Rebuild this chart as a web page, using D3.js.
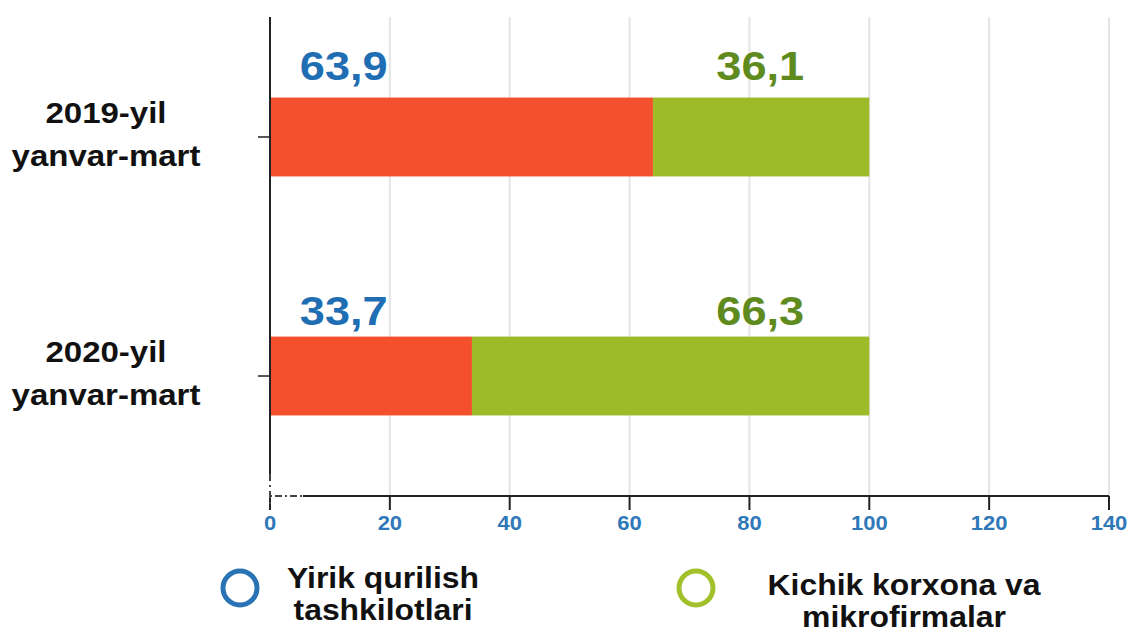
<!DOCTYPE html>
<html>
<head>
<meta charset="utf-8">
<script src="https://cdn.jsdelivr.net/npm/d3@7"></script>
<style>
  body { margin: 0; background: #fff; }
  text { font-family: "Liberation Sans", Arial, sans-serif; font-weight: bold; }
</style>
</head>
<body>
<svg width="1130" height="633"></svg>
<script>
// data
categories = [["2019-yil", "yanvar-mart"], ["2020-yil", "yanvar-mart"]];
catKeys = ["2019", "2020"];
yirik = [63.9, 33.7];
kichik = [36.1, 66.3];
seriesNames = [["Yirik qurilish", "tashkilotlari"], ["Kichik korxona va", "mikrofirmalar"]];
xTicks = [0, 20, 40, 60, 80, 100, 120, 140];

// layout
barColors = ["#f5502d", "#9dba29"];
labelColors = ["#1f6eb3", "#5e8a1e"];
legendColors = ["#2a73b4", "#a1c02b"];
labelAt = [12.3, 81.8];   // where value labels sit, in axis units
labelGap = [18, 12];
stretch = 1.1;            // text in the original is a bit wide

svg = d3.select("svg");

x = d3.scaleLinear().domain([0, 140]).range([270, 1109]);
y = d3.scaleBand().domain(catKeys).range([17, 496])
  .paddingInner(0.67).paddingOuter(0.337);

// gridlines
svg.append("g").selectAll("line")
  .data(xTicks.slice(1))
  .enter().append("line")
    .attr("x1", d => x(d)).attr("x2", d => x(d))
    .attr("y1", 17).attr("y2", 496)
    .attr("stroke", "#e4e4e4").attr("stroke-width", 2);

// bars
rows = catKeys.map((k, i) => ({ key: k, vals: [yirik[i], kichik[i]] }));
rows.forEach((r, i) => {
  let start = 0;
  r.vals.forEach((v, s) => {
    svg.append("rect")
      .attr("x", x(start))
      .attr("y", y(r.key))
      .attr("width", x(start + v) - x(start))
      .attr("height", y.bandwidth())
      .attr("fill", barColors[s]);
    start += v;
  });
});

// value labels
rows.forEach((r, i) => {
  r.vals.forEach((v, s) => {
    svg.append("text")
      .attr("transform", `translate(${x(labelAt[s])},${y(r.key) - labelGap[i]}) scale(${stretch},1)`)
      .attr("text-anchor", "middle")
      .attr("font-size", 41)
      .attr("fill", labelColors[s])
      .text(String(v).replace(".", ","));
  });
});

// x axis
xAxis = svg.append("g").attr("transform", "translate(0,496)");
xAxis.append("line")
  .attr("x1", x(5.5)).attr("x2", x(140))
  .attr("stroke", "#222").attr("stroke-width", 2);
xAxis.append("line")
  .attr("x1", x(0)).attr("x2", x(5.5))
  .attr("stroke", "#444").attr("stroke-width", 2).attr("stroke-dasharray", "2,3,7,3");
xAxis.selectAll(".tick")
  .data(xTicks)
  .enter().append("line")
    .attr("x1", d => x(d)).attr("x2", d => x(d))
    .attr("y1", 0).attr("y2", 14)
    .attr("stroke", "#222").attr("stroke-width", 2);
xAxis.selectAll(".tl")
  .data(xTicks)
  .enter().append("text")
    .attr("transform", d => `translate(${x(d)},34) scale(${stretch},1)`)
    .attr("text-anchor", "middle")
    .attr("font-size", 20)
    .attr("fill", "#2f78b8")
    .text(d => d);

// y axis
yAxis = svg.append("g");
yAxis.append("line")
  .attr("x1", x(0)).attr("x2", x(0))
  .attr("y1", 17).attr("y2", 474)
  .attr("stroke", "#222").attr("stroke-width", 2);
yAxis.append("line")
  .attr("x1", x(0)).attr("x2", x(0))
  .attr("y1", 474).attr("y2", 508)
  .attr("stroke", "#444").attr("stroke-width", 2).attr("stroke-dasharray", "7,4,2,4");
yAxis.selectAll(".tick")
  .data(catKeys)
  .enter().append("line")
    .attr("x1", x(0) - 12).attr("x2", x(0))
    .attr("y1", d => y(d) + y.bandwidth() / 2).attr("y2", d => y(d) + y.bandwidth() / 2)
    .attr("stroke", "#222").attr("stroke-width", 1.5);
catKeys.forEach((k, i) => {
  const cy = y(k) + y.bandwidth() / 2;
  categories[i].forEach((line, j) => {
    yAxis.append("text")
      .attr("transform", `translate(106,${cy - 14 + j * 43}) scale(${stretch},1)`)
      .attr("text-anchor", "middle")
      .attr("font-size", 30)
      .attr("fill", "#111")
      .text(line);
  });
});

// legend
legendPos = [{ cx: 240, tx: 383, ty: 588 }, { cx: 696, tx: 904, ty: 595 }];
legendPos.forEach((p, i) => {
  svg.append("circle")
    .attr("cx", p.cx).attr("cy", 588).attr("r", 17)
    .attr("fill", "none")
    .attr("stroke", legendColors[i]).attr("stroke-width", 5);
  seriesNames[i].forEach((line, j) => {
    svg.append("text")
      .attr("transform", `translate(${p.tx},${p.ty + j * 32}) scale(${stretch},1)`)
      .attr("text-anchor", "middle")
      .attr("font-size", 29)
      .attr("fill", "#111")
      .text(line);
  });
});
</script>
</body>
</html>
